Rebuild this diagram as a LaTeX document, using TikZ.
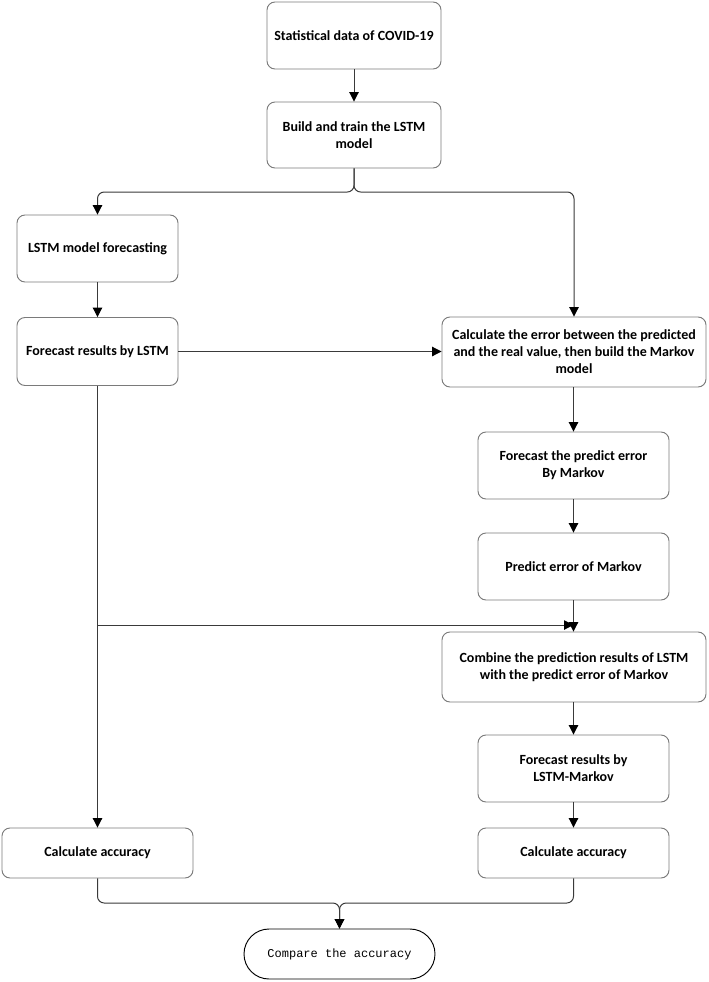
\documentclass[tikz,border=0pt]{standalone}
\usepackage{fontspec}
\setmainfont{Carlito}
\setmonofont{Liberation Mono}
\usetikzlibrary{arrows.meta,shapes.misc}
\definecolor{boxgray}{HTML}{7A7A7A}
\definecolor{linegray}{HTML}{3A3A3A}
\tikzset{
  box/.style={draw=boxgray, line width=0.7pt, rounded corners=6pt, align=center, inner sep=0pt,
    font=\bfseries\fontsize{10.5}{12.75}\selectfont, text=black},
  narrowbox/.style={box, minimum width=143.25pt, minimum height=50.25pt},
  conn/.style={draw=linegray, line width=0.75pt},
  arr/.style={conn, -{Triangle[width=7pt,length=7pt,fill=black,color=black]}},
}
\begin{document}
\begin{tikzpicture}[x=0.75pt,y=-0.75pt]
\useasboundingbox[fill=white] (0,0) rectangle (708,982);

% nodes
\node[box, minimum width=130.5pt, minimum height=50.25pt] (A) at (354,35.5) {Statistical data of COVID-19};
\node[box, minimum width=130.5pt, minimum height=49.5pt] (B) at (354,135) {Build and train the LSTM\\model};
\node[box, minimum width=120.75pt, minimum height=50.25pt] (C) at (97.5,248.5) {LSTM model forecasting};
\node[box, minimum width=120.75pt, minimum height=51pt] (D) at (97.5,351.5) {Forecast results by LSTM};
\node[box, minimum width=198pt, minimum height=52.5pt] (E) at (574,352) {Calculate the error between the predicted\\and the real value, then build the Markov\\model};
\node[narrowbox] (F) at (573.5,465.5) {Forecast the predict error\\By Markov};
\node[narrowbox] (G) at (573.5,566.5) {Predict error of Markov};
\node[box, minimum width=198pt, minimum height=52.5pt] (H) at (574,667) {Combine the prediction results of LSTM\\with the predict error of Markov};
\node[narrowbox] (I) at (573.5,768.5) {Forecast results by\\LSTM-Markov};
\node[box, minimum width=143.25pt, minimum height=37.5pt] (J) at (573.5,853) {Calculate accuracy};
\node[box, minimum width=143.25pt, minimum height=37.5pt] (K) at (97.5,853) {Calculate accuracy};
\node[draw=black, line width=0.7pt, rounded rectangle, minimum width=143.25pt, minimum height=37.5pt,
  inner sep=0pt, font=\ttfamily\fontsize{9}{11}\selectfont] (L) at (339.5,954) {Compare the accuracy};

% connectors
\draw[arr] (A) -- (B);
\coordinate (s1) at (354,192);
\draw[arr, rounded corners=5pt] (B.south) -- (s1) -| (C.north);
\draw[arr, rounded corners=5pt] (B.south) -- (s1) -| (E.north);
\draw[arr] (C) -- (D);
\draw[arr] (D.east) -- (D.east -| E.west);
\draw[arr] (D.south) -- (K.north);
\draw[arr] (E.south -| F.north) -- (F.north);
\draw[arr] (F) -- (G);
\coordinate (m1) at (97.5,625);
\coordinate (m2) at (573.5,625);
\draw[arr] (m1) -- (m2);
\draw[arr] (G.south) -- (H.north -| G.south);
\draw[arr] (H.south -| I.north) -- (I.north);
\draw[arr] (I) -- (J);
\coordinate (s2) at (339.5,903);
\draw[arr, rounded corners=5pt] (K.south) |- (s2) -- (L.north);
\draw[arr, rounded corners=5pt] (J.south) |- (s2) -- (L.north);
\end{tikzpicture}
\end{document}
